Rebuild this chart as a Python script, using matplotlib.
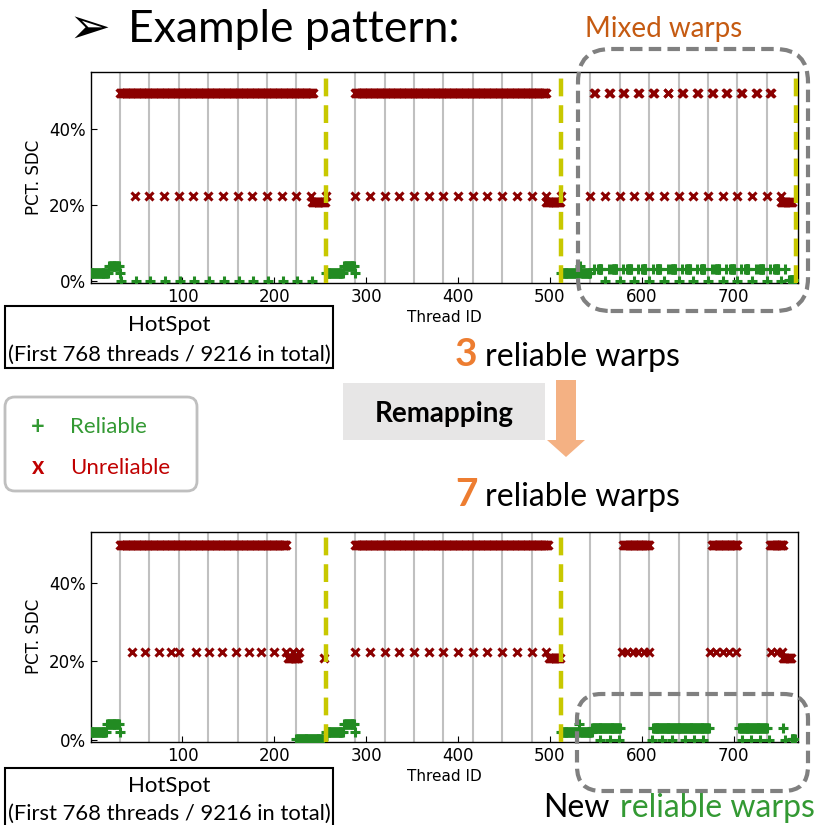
import numpy as np
import matplotlib.pyplot as plt
from matplotlib.patches import FancyBboxPatch, Rectangle, Polygon

W, H = 816, 825

# runs of threads: (first thread, last thread, step, pct SDC)
top_reliable = [(0, 19, 1, 2.0), (20, 31, 1, 4.0), (32, 32, 1, 2.0), (33, 241, 16, 0.0),
                (256, 275, 1, 2.0), (276, 287, 1, 4.0), (288, 288, 1, 2.0),
                (512, 531, 1, 2.0), (533, 533, 1, 4.0), (534, 544, 1, 2.0),
                (548, 756, 8, 3.2), (560, 752, 16, 0.0), (760, 767, 1, 0.3)]
top_square_starts = [552, 568, 584, 600, 616, 632, 648, 664, 680, 696, 712, 728, 744]
top_unreliable = [(32, 242, 1, 49.5), (48, 240, 16, 22.5), (241, 255, 1, 20.9),
                  (256, 256, 1, 22.5), (288, 496, 1, 49.5), (288, 512, 16, 22.5),
                  (496, 511, 1, 20.9), (548, 740, 16, 49.5), (549, 741, 16, 49.5),
                  (544, 752, 16, 22.5), (752, 763, 1, 20.9)]

bot_reliable = [(0, 17, 1, 2.0), (18, 31, 1, 4.0), (32, 32, 1, 2.0), (224, 253, 1, 0.2),
                (256, 275, 1, 2.0), (276, 287, 1, 4.0), (288, 288, 1, 2.0),
                (512, 530, 1, 2.0), (532, 532, 1, 4.0), (533, 546, 1, 2.0),
                (546, 576, 1, 3.2), (612, 673, 1, 3.2), (706, 736, 1, 3.2),
                (754, 754, 1, 3.2), (763, 767, 1, 0.3)]
bot_zero_threads = [555, 565, 575, 611, 622, 633, 647, 657, 667, 709, 719, 729, 738, 756]
bot_unreliable = [(32, 213, 1, 49.5), (215, 226, 1, 20.9), (254, 254, 1, 20.9),
                  (288, 498, 1, 49.5), (288, 496, 16, 22.5), (499, 511, 1, 20.9),
                  (580, 608, 1, 49.5), (676, 704, 1, 49.5), (740, 754, 1, 49.5),
                  (754, 762, 1, 20.9)]
bot_mid_threads = [45, 59, 74, 88, 96, 115, 129, 143, 158, 172, 186, 200, 213, 220, 227,
                   578, 584, 590, 596, 602, 608, 674, 681, 688, 695, 702, 741, 747, 753]

warp_lines = list(range(32, 768, 32))
block_lines_top = [256, 512, 768]
block_lines_bot = [256, 512]

GREEN = '#228b22'
RED = '#8b0000'


def expand(runs):
    xs, ys = [], []
    for a, b, step, v in runs:
        t = np.arange(a, b + 1, step)
        xs.append(t)
        ys.append(np.full(len(t), v))
    return np.concatenate(xs), np.concatenate(ys)


def fx(x):
    return x / W


def fy(y):
    return 1 - y / H


def draw_panel(ax, ok, bad, blocks, ylim):
    for w in warp_lines:
        if w not in blocks:
            ax.axvline(w, color='#c0c0c0', lw=1.5, zorder=1)
    for b in blocks:
        ax.axvline(b, color='#c8c800', lw=3.2, dashes=(4, 2), zorder=4)
    x, y = ok
    ax.plot(x, y, ls='none', marker='+', ms=6.5, mew=2.2, color=GREEN, zorder=3)
    x, y = bad
    ax.plot(x, y, ls='none', marker='x', ms=5.5, mew=2.2, color=RED, zorder=3)
    ax.set_xlim(0, 770)
    ax.set_ylim(*ylim)
    ax.set_xticks([100, 200, 300, 400, 500, 600, 700])
    ax.set_yticks([0, 20, 40])
    ax.set_yticklabels(['0%', '20%', '40%'])
    ax.tick_params(direction='in', labelsize=12, length=4)
    ax.set_ylabel('PCT. SDC', fontsize=12)
    ax.set_xlabel('Thread ID', fontsize=11, labelpad=3)
    for s in ax.spines.values():
        s.set_linewidth(1.0)


fig = plt.figure(figsize=(W / 100, H / 100), dpi=100)

ax1 = fig.add_axes([fx(90.6), fy(283), (798 - 90.6) / W, 211 / H])
ok_top = expand(top_reliable + [(s, s + 4, 1, 3.2) for s in top_square_starts])
draw_panel(ax1, ok_top, expand(top_unreliable), block_lines_top, (-0.5, 55))

ax2 = fig.add_axes([fx(90.6), fy(741.7), (798 - 90.6) / W, 210 / H])
ok_bot = expand(bot_reliable + [(t, t, 1, 0.0) for t in bot_zero_threads])
bad_bot = expand(bot_unreliable + [(t, t, 1, 22.5) for t in bot_mid_threads])
draw_panel(ax2, ok_bot, bad_bot, block_lines_bot, (-0.4, 53))

SLIDE = ['Lato', 'DejaVu Sans']

# title
fig.text(fx(68), fy(43), '\u27a2', fontsize=36, family=['DejaVu Sans'], va='baseline')
fig.text(fx(128), fy(42), 'Example pattern:', fontsize=32, family=SLIDE, va='baseline')
fig.text(fx(585), fy(37), 'Mixed warps', fontsize=20, family=SLIDE, color='#c55a11', va='baseline')

# dashed boxes
fig.patches.append(FancyBboxPatch((fx(578), fy(311)), fx(808) - fx(578), fy(49) - fy(311),
                                  boxstyle='round,pad=0,rounding_size=0.04', transform=fig.transFigure,
                                  fill=False, ec='#808080', lw=3, ls=(0, (3, 1.5)), zorder=10))
fig.patches.append(FancyBboxPatch((fx(577), fy(791)), fx(808) - fx(577), fy(694) - fy(791),
                                  boxstyle='round,pad=0,rounding_size=0.03', transform=fig.transFigure,
                                  fill=False, ec='#808080', lw=3, ls=(0, (3, 1.5)), zorder=10))

# HotSpot boxes
for top, b1, b2 in [(306, 331, 361), (768, 792, 820)]:
    fig.patches.append(Rectangle((fx(5), fy(top + 62)), fx(333) - fx(5), 62 / H,
                                 transform=fig.transFigure, fill=False, ec='black', lw=1.5))
    fig.text(fx(169), fy(b1), 'HotSpot', fontsize=16, family=SLIDE, ha='center', va='baseline')
    fig.text(fx(169), fy(b2), '(First 768 threads / 9216 in total)', fontsize=15.8, family=SLIDE,
             ha='center', va='baseline')

# legend
fig.patches.append(FancyBboxPatch((fx(5), fy(491)), fx(197) - fx(5), fy(397) - fy(491),
                                  boxstyle='round,pad=0,rounding_size=0.012', transform=fig.transFigure,
                                  fill=False, ec='#bfbfbf', lw=2))
fig.text(fx(38), fy(426), '+', fontsize=17, weight='bold', color='#339933', ha='center', va='center', family=SLIDE)
fig.text(fx(70), fy(433), 'Reliable', fontsize=16, color='#339933', va='baseline', family=SLIDE)
fig.text(fx(38), fy(467), 'x', fontsize=17, weight='bold', color='#c00000', ha='center', va='center', family=SLIDE)
fig.text(fx(70), fy(474), 'Unreliable', fontsize=16, color='#c00000', va='baseline', family=SLIDE)

# remapping
fig.text(fx(455), fy(366), '3', fontsize=28, weight='bold', color='#ed7d31', va='baseline', family=SLIDE)
fig.text(fx(485), fy(366), 'reliable warps', fontsize=23, va='baseline', family=SLIDE)
fig.text(fx(455), fy(506), '7', fontsize=28, weight='bold', color='#ed7d31', va='baseline', family=SLIDE)
fig.text(fx(485), fy(506), 'reliable warps', fontsize=23, va='baseline', family=SLIDE)
fig.patches.append(Rectangle((fx(343), fy(440)), fx(545) - fx(343), 57 / H,
                             transform=fig.transFigure, fc='#e7e6e6', ec='none'))
fig.text(fx(444), fy(422), 'Remapping', fontsize=20, weight='bold', ha='center', va='baseline', family=SLIDE)
arrow = [(556, 380), (576, 380), (576, 440), (585, 440), (566, 457), (547, 440), (556, 440)]
fig.patches.append(Polygon([(fx(a), fy(b)) for a, b in arrow], closed=True,
                           transform=fig.transFigure, fc='#f4b183', ec='none'))

fig.text(fx(543), fy(817), 'New', fontsize=23, va='baseline', family=SLIDE)
fig.text(fx(620), fy(817), 'reliable warps', fontsize=23, color='#339933', va='baseline', family=SLIDE)

fig.savefig('out.png', dpi=100)
